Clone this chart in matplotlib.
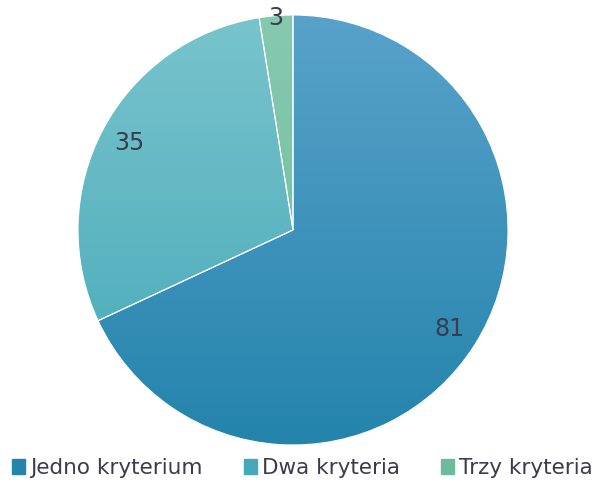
import numpy as np
import matplotlib.pyplot as plt
from matplotlib.colors import LinearSegmentedColormap

labels = ['Jedno kryterium', 'Dwa kryteria', 'Trzy kryteria']
values = [81, 35, 3]
top_colors = ['#58a2ca', '#78c4cc', '#86c9b0']
bottom_colors = ['#2484ac', '#45a8b8', '#6cbc9c']
label_r = [0.86, 0.86, 0.99]
txt_color = '#3b3b4d'

fig = plt.figure(figsize=(5.99, 4.86), dpi=100)
ax = fig.add_axes([78 / 599, 41 / 486, 430 / 599, 430 / 486])
ax.axis('off')

wedges, _ = ax.pie(values, startangle=90, counterclock=False, radius=1,
                   colors=['none'] * 3, wedgeprops=dict(linewidth=0))

grad = np.linspace(1, 0, 256).reshape(-1, 1)
for w, c0, c1 in zip(wedges, top_colors, bottom_colors):
    cmap = LinearSegmentedColormap.from_list('g', [c1, c0])
    im = ax.imshow(grad, cmap=cmap, extent=[-1, 1, -1, 1], aspect='auto',
                   vmin=0, vmax=1, zorder=1)
    im.set_clip_path(w)

# white separators
for w in wedges:
    w.set_edgecolor('white')
    w.set_linewidth(0.8)
    w.set_zorder(2)

for w, v, r in zip(wedges, values, label_r):
    ang = np.deg2rad((w.theta1 + w.theta2) / 2)
    ax.text(r * np.cos(ang), r * np.sin(ang), str(v), ha='center', va='center',
            fontsize=17, color=txt_color, family='DejaVu Sans', zorder=3)

ax.set_xlim(-1, 1)
ax.set_ylim(-1, 1)
ax.set_aspect('equal')

# legend
handles = [plt.Rectangle((0, 0), 1, 1, color=c) for c in bottom_colors]
leg = fig.legend(handles, labels, loc='lower center', ncol=3, frameon=False,
                 bbox_to_anchor=(0.505, -0.02), handlelength=0.6, handleheight=0.7,
                 handletextpad=0.25, columnspacing=1.9, borderpad=0.3,
                 prop={'family': 'DejaVu Sans', 'size': 15.5})
for t in leg.get_texts():
    t.set_color(txt_color)

fig.savefig('out.png', dpi=100)
